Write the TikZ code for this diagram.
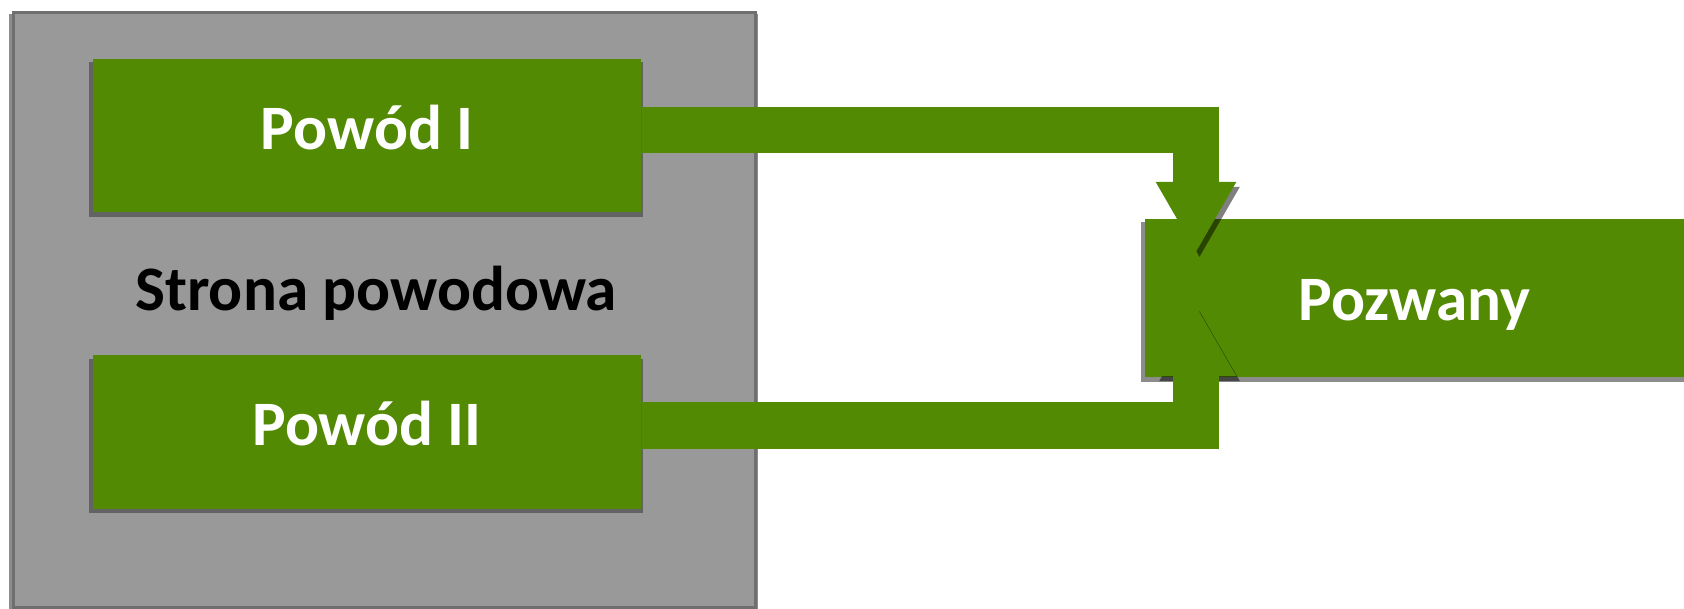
\documentclass[tikz,border=0pt]{standalone}
\usepackage{fontspec}
\setmainfont{Carlito}
\usetikzlibrary{arrows.meta,shadows}
\definecolor{zielony}{HTML}{538A03}
\definecolor{szary}{HTML}{999999}
\definecolor{ramka}{HTML}{6F6F6F}
\begin{document}
\begin{tikzpicture}[x=0.01cm, y=-0.01cm,
	cien/.style={drop shadow={shadow scale=1.01, shadow xshift=-0.1mm, shadow yshift=-0.4mm, opacity=.6, fill=black!75}},
	strona/.style={fill=szary, draw=ramka, line width=0.3mm, minimum width=7.41cm, minimum height=5.94cm, inner sep=0pt, cien},
	powod/.style={fill=zielony, text=white, font=\bfseries\fontsize{18}{20}\selectfont, minimum width=5.48cm, minimum height=1.53cm, inner sep=0pt, text height=2.7mm, text depth=0mm, cien},
	pozwany/.style={powod, minimum width=5.39cm, minimum height=1.58cm, text height=4.4mm},
	pas/.style={draw=zielony, line width=4.6mm, line join=miter, -{Triangle[width=7.5mm, length=7.1mm]},
		preaction={draw=black, opacity=.5, transform canvas={xshift=0.35mm, yshift=-0.5mm}}}]
	\useasboundingbox (0,0) rectangle (1684,608);

	\node[strona] (sp) at (384.5,310) {};
	\node[font=\bfseries\fontsize{18}{20}\selectfont, anchor=base] (spl) at (376,310) {Strona powodowa};
	\node[powod] (p1) at (367,135.5) {Powód I};
	\node[powod] (p2) at (367,432) {Powód II};

	\node[pozwany] (poz) at (1414.5,298) {Pozwany};
	\coordinate (tipA) at (1196,253);
	\coordinate (tipB) at (1196,305);

	\draw[pas] ([yshift=0.55mm]p1.east) -| (tipA);
	\draw[pas] ([yshift=0.65mm]p2.east) -| (tipB);
\end{tikzpicture}
\end{document}
